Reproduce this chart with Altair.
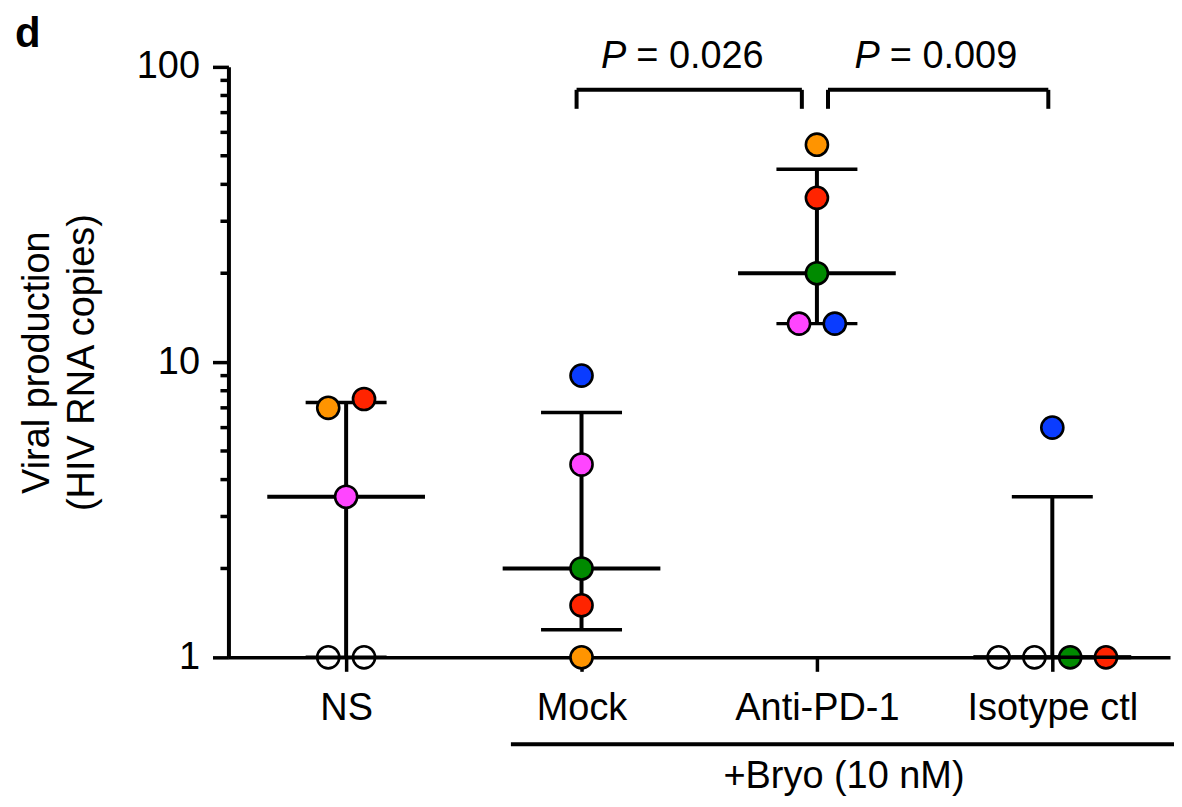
import altair as alt
import pandas as pd

# ---------------- data ----------------
groups = ["NS", "Mock", "Anti-PD-1", "Isotype ctl"]

pt_group = [0, 0, 0, 0, 0,
            1, 1, 1, 1, 1,
            2, 2, 2, 2, 2,
            3, 3, 3, 3, 3]
pt_value = [7.0, 7.5, 3.5, 1.0, 1.0,
            9.0, 4.5, 2.0, 1.5, 1.0,
            54.5, 36.0, 20.0, 13.5, 13.5,
            6.0, 1.0, 1.0, 1.0, 1.0]
pt_donor = ["orange", "red", "pink", "none", "none",
            "blue", "pink", "green", "red", "orange",
            "orange", "red", "green", "pink", "blue",
            "blue", "none", "none", "green", "red"]
pt_slot = [-1, 1, 0, -1, 1,
           0, 0, 0, 0, 0,
           0, 0, 0, -1, 1,
           0, -3, -1, 1, 3]

medians = [3.5, 2.0, 20.0, 1.0]
q_low = [1.0, 1.24, 13.5, 1.0]
q_high = [7.3, 6.75, 45.0, 3.5]

comparisons = [(1, 2, "0.026"), (2, 3, "0.009")]
minor_ticks = [2, 3, 4, 5, 6, 7, 8, 9, 20, 30, 40, 50, 60, 70, 80, 90]
major_ticks = [1, 10, 100]

donor_colors = {"orange": "#FF9400", "red": "#FF2400", "pink": "#FF45FF",
                "green": "#008A00", "blue": "#0A3CFF", "none": "transparent"}

# ---------------- styling constants ----------------
FONT = "Liberation Sans"
FS = 38
SLOT = 0.076
CAP_HALF = 0.172
MED_HALF = 0.335

pts = pd.DataFrame({
    "g": pt_group, "v": pt_value,
    "fill": [donor_colors[d] for d in pt_donor],
    "slot": pt_slot,
})
pts["x"] = pts["g"] + pts["slot"] * SLOT

summ = pd.DataFrame({"g": list(range(len(groups))), "med": medians,
                     "lo": q_low, "hi": q_high})
summ["cx1"] = summ["g"] - CAP_HALF
summ["cx2"] = summ["g"] + CAP_HALF
summ["mx1"] = summ["g"] - MED_HALF
summ["mx2"] = summ["g"] + MED_HALF

label_expr = "[" + ",".join("'%s'" % g for g in groups) + "][datum.value]"

xscale = alt.Scale(domain=[-0.5, 3.5], nice=False, zero=False)
yscale = alt.Scale(type="log", domain=[1, 100], nice=False)

xaxis = alt.Axis(values=[0, 1, 2, 3], labelExpr=label_expr, grid=False,
                 title=None, tickSize=14, tickWidth=3.5, domainWidth=3.5,
                 domainColor="black", tickColor="black",
                 labelFont=FONT, labelFontSize=FS, labelColor="black",
                 labelPadding=18)
yaxis = alt.Axis(values=major_ticks, format="d", grid=False,
                 title=["Viral production", "(HIV RNA copies)"],
                 titleFont=FONT, titleFontSize=FS, titleFontWeight="normal",
                 titleColor="black", titleX=-172, titleY=296, titleAngle=-90,
                 titleAlign="center", titleBaseline="bottom", titleLineHeight=45,
                 tickSize=16, tickWidth=3.5, domainWidth=4, domainColor="black",
                 tickColor="black", labelFont=FONT, labelFontSize=FS,
                 labelColor="black", labelPadding=13)


def X(field):
    return alt.X(field, type="quantitative", scale=xscale, axis=xaxis)


def Y(field):
    return alt.Y(field, type="quantitative", scale=yscale, axis=yaxis)


base_s = alt.Chart(summ)

vbar = base_s.mark_rule(color="black", strokeWidth=4).encode(
    x=X("g"), y=Y("lo"), y2="hi")
cap_hi = base_s.mark_rule(color="black", strokeWidth=3.5).encode(
    x=X("cx1"), x2="cx2", y=Y("hi"))
cap_lo = base_s.mark_rule(color="black", strokeWidth=3.5).encode(
    x=X("cx1"), x2="cx2", y=Y("lo"))
med = base_s.mark_rule(color="black", strokeWidth=4).encode(
    x=X("mx1"), x2="mx2", y=Y("med"))
# medians lying on the detection floor are drawn over the points
med_floor = base_s.transform_filter("datum.med <= 1").mark_rule(
    color="black", strokeWidth=3.5).encode(
    x=X("mx1"), x2="mx2", y=Y("med"))

points = alt.Chart(pts).mark_circle(size=490, opacity=1, stroke="black",
                                    strokeWidth=2.6).encode(
    x=X("x"), y=Y("v"), fill=alt.Fill("fill:N", scale=None))

# minor ticks on y axis
minor = alt.Chart(pd.DataFrame({"t": minor_ticks})).mark_rule(
    color="black", strokeWidth=3.5).encode(
    y=Y("t"), x=alt.value(-8), x2=alt.value(0))

# significance brackets
br_rows, leg_rows, ptxt = [], [], []
for a, b, p in comparisons:
    x1 = a - 0.021 if a == 1 else a + 0.047
    x2 = b - 0.064 if b == 2 else b - 0.017
    br_rows.append({"x1": x1, "x2": x2, "y": 83.6})
    leg_rows.append({"x": x1, "y1": 72.1, "y2": 83.6})
    leg_rows.append({"x": x2, "y1": 72.1, "y2": 83.6})
    mid = a + 0.19 if a == 1 else a + 0.267
    ptxt.append({"x": mid, "y": 99.0, "rest": "= " + p})
br_df = pd.DataFrame(br_rows)
leg_df = pd.DataFrame(leg_rows)
ptxt_df = pd.DataFrame(ptxt)

br_h = alt.Chart(br_df).mark_rule(color="black", strokeWidth=4).encode(
    x=X("x1"), x2="x2", y=Y("y"))
br_v = alt.Chart(leg_df).mark_rule(color="black", strokeWidth=4).encode(
    x=X("x"), y=Y("y1"), y2="y2")
p_it = alt.Chart(ptxt_df).mark_text(font=FONT, fontSize=FS, fontStyle="italic",
                                     align="right", baseline="alphabetic",
                                     color="black").encode(
    x=X("x"), y=Y("y"), text=alt.value("P"))
p_rest = alt.Chart(ptxt_df).mark_text(font=FONT, fontSize=FS, align="left",
                                       baseline="alphabetic", color="black",
                                       dx=10).encode(
    x=X("x"), y=Y("y"), text="rest:N")

# +Bryo group line and label
bryo_line = alt.Chart(pd.DataFrame({"x1": [0.70], "x2": [3.52], "y": [0.508]})).mark_rule(
    color="black", strokeWidth=4).encode(x=X("x1"), x2="x2", y=Y("y"))
bryo_txt = alt.Chart(pd.DataFrame({"x": [2.115], "y": [0.36], "t": ["+Bryo (10 nM)"]})).mark_text(
    font=FONT, fontSize=FS, align="center", baseline="alphabetic", color="black").encode(
    x=X("x"), y=Y("y"), text="t:N")

panel = alt.Chart(pd.DataFrame({"t": ["d"]})).mark_text(
    font=FONT, fontSize=42, fontWeight="bold", align="left",
    baseline="alphabetic", color="black").encode(
    x=alt.value(-214), y=alt.value(-20), text="t:N")

chart = alt.layer(
    minor, vbar, cap_hi, cap_lo, med, points, med_floor,
    br_h, br_v, p_it, p_rest, bryo_line, bryo_txt, panel
).properties(
    width=944, height=592,
    autosize=alt.AutoSizeParams(type="none"),
    padding={"left": 221, "top": 58, "right": 4, "bottom": 141},
    background="white",
).configure_view(stroke=None)

chart.save("out.html", embed_options={"renderer": "svg", "actions": False})
